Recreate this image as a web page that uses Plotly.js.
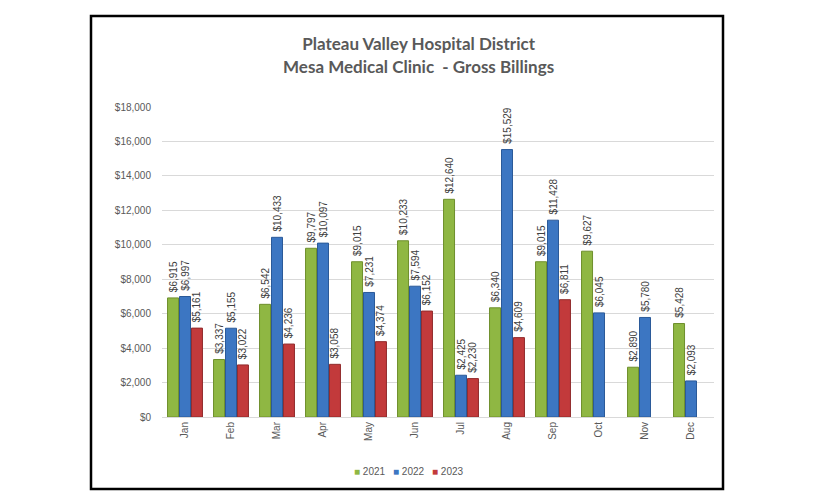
<!DOCTYPE html>
<html>
<head>
<meta charset="utf-8">
<script src="https://cdn.plot.ly/plotly-3.0.1.min.js"></script>
<style>html,body{margin:0;padding:0;background:#fff;}#chart{width:816px;height:504px;}</style>
</head>
<body>
<div id="chart"></div>
<script>
const months = ["Jan","Feb","Mar","Apr","May","Jun","Jul","Aug","Sep","Oct","Nov","Dec"];
const y2021 = [6915, 3337, 6542, 9797, 9015, 10233, 12640, 6340, 9015, 9627, 2890, 5428];
const y2022 = [6997, 5155, 10433, 10097, 7231, 7594, 2425, 15529, 11428, 6045, 5780, 2093];
const y2023 = [5161, 3022, 4236, 3058, 4374, 6152, 2230, 4609, 6811, null, null, null];
const seriesNames = ["2021","2022","2023"];
const yTickVals = [0,2000,4000,6000,8000,10000,12000,14000,16000,18000];

const colors = ["#8FB743","#3C76C2","#C23A3B"];
const lineColors = ["#6E8F2C","#2B5A99","#912A2B"];
const fmt = v => v == null ? "" : "\u00a0$" + v.toLocaleString("en-US");

const traces = [y2021, y2022, y2023].map((ys, i) => ({
  type: "bar",
  name: seriesNames[i],
  x: months,
  y: ys,
  text: ys.map(fmt),
  textposition: "outside",
  textangle: -90,
  constraintext: "none",
  cliponaxis: false,
  textfont: {family: "Liberation Sans, Arial, sans-serif", size: 10, color: "#404040"},
  marker: {color: colors[i], line: {color: lineColors[i], width: 1}},
  hoverinfo: "x+y",
  showlegend: false
}));

const legendX = [0.344, 0.415, 0.486];
const legendAnn = seriesNames.map((n, i) => ({
  xref: "paper", yref: "paper",
  x: legendX[i], y: (417-471)/310, xanchor: "left", yanchor: "middle",
  showarrow: false,
  text: "<span style='color:" + colors[i] + "'>■</span> " + n,
  font: {family: "Liberation Sans, Arial, sans-serif", size: 10, color: "#595959"}
}));

const layout = {
  width: 816, height: 504,
  paper_bgcolor: "#ffffff", plot_bgcolor: "#ffffff",
  margin: {l: 162, r: 102, t: 107, b: 87},
  barmode: "group",
  bargap: 0.22,
  bargroupgap: 0.08,
  title: {
    text: "<b>Plateau Valley Hospital District<br>Mesa Medical Clinic  - Gross Billings</b>",
    font: {family: "Lato, Open Sans, sans-serif", size: 17, color: "#595959"},
    x: 0.513, xanchor: "center", y: 0.9, yanchor: "middle"
  },
  xaxis: {
    tickangle: -90,
    tickfont: {family: "Liberation Sans, Arial, sans-serif", size: 10, color: "#595959"},
    showline: true, linecolor: "#D9D9D9", linewidth: 1,
    ticks: "", showgrid: false
  },
  yaxis: {
    range: [0, 18000],
    tickvals: yTickVals,
    ticktext: yTickVals.map(v => "$" + v.toLocaleString("en-US")),
    tickfont: {family: "Liberation Sans, Arial, sans-serif", size: 10, color: "#595959"},
    gridcolor: "#D9D9D9", gridwidth: 1,
    zeroline: false, showline: false, ticks: "", ticklabelstandoff: 10
  },
  annotations: legendAnn,
  shapes: [{
    type: "rect", xref: "paper", yref: "paper",
    x0: (91-162)/552, x1: (723-162)/552,
    y0: (417-489)/310, y1: (417-16)/310,
    line: {color: "#000000", width: 2.5}
  }],
  showlegend: false
};

Plotly.newPlot("chart", traces, layout, {displayModeBar: false, staticPlot: true});
</script>
</body>
</html>
